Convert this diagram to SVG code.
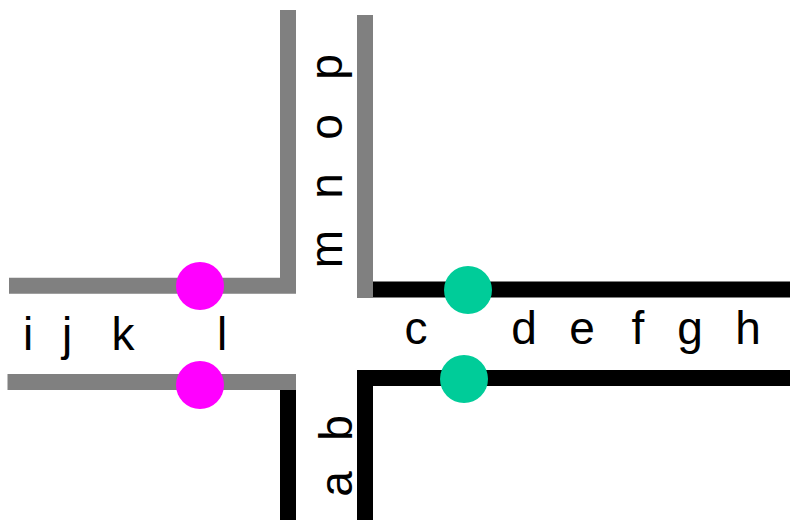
<svg xmlns="http://www.w3.org/2000/svg" width="792" height="520" viewBox="0 0 792 520">
  <style>
    .gray { fill: none; stroke: #808080; stroke-width: 16; stroke-linejoin: miter; stroke-linecap: butt; }
    .black { fill: none; stroke: #000000; stroke-width: 16; stroke-linejoin: miter; stroke-linecap: butt; }
    .lbl { font-family: "Liberation Sans", Arial, sans-serif; font-size: 46px; fill: #000000; text-anchor: middle; }
    .mag { fill: #ff00ff; }
    .grn { fill: #00cc99; }
  </style>
  <rect width="792" height="520" fill="#ffffff"/>

  <!-- road edges -->
  <g id="connectors">
    <path class="gray" d="M9 285.7 H288 V10"/>
    <path class="gray" d="M365 15 V298"/>
    <path class="black" d="M373 289.5 H790"/>
    <path class="gray" d="M7.5 382 H296"/>
    <path class="black" d="M288 390 V520"/>
    <path class="black" d="M790 378 H365 V520"/>
  </g>

  <!-- stop markers -->
  <g id="stop-west-north"><circle class="mag" cx="200" cy="286" r="24"/></g>
  <g id="stop-west-south"><circle class="mag" cx="200" cy="385" r="24"/></g>
  <g id="stop-east-north"><circle class="grn" cx="468" cy="290" r="24"/></g>
  <g id="stop-east-south"><circle class="grn" cx="464" cy="379" r="24"/></g>

  <!-- west arm labels -->
  <g id="labels-west">
    <text class="lbl" x="28" y="350">i</text>
    <text class="lbl" x="67" y="350">j</text>
    <text class="lbl" x="123" y="350">k</text>
    <text class="lbl" x="222" y="350">l</text>
  </g>

  <!-- east arm labels -->
  <g id="labels-east">
    <text class="lbl" x="416" y="344">c</text>
    <text class="lbl" x="524" y="344">d</text>
    <text class="lbl" x="582" y="344">e</text>
    <text class="lbl" x="638" y="344">f</text>
    <text class="lbl" x="690" y="344">g</text>
    <text class="lbl" x="748" y="344">h</text>
  </g>

  <!-- north arm labels (rotated) -->
  <g id="labels-north">
    <text class="lbl" transform="translate(342,249) rotate(-90)">m</text>
    <text class="lbl" transform="translate(342,186) rotate(-90)">n</text>
    <text class="lbl" transform="translate(342,127) rotate(-90)">o</text>
    <text class="lbl" transform="translate(342,67) rotate(-90)">p</text>
  </g>

  <!-- south arm labels (rotated) -->
  <g id="labels-south">
    <text class="lbl" transform="translate(352,428) rotate(-90)">b</text>
    <text class="lbl" transform="translate(352,484) rotate(-90)">a</text>
  </g>
</svg>
